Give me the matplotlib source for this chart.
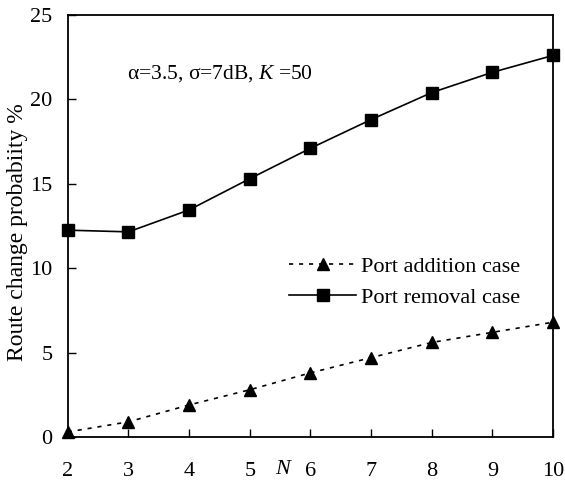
import matplotlib
matplotlib.use("Agg")
import matplotlib.pyplot as plt

# data
n_values = [2, 3, 4, 5, 6, 7, 8, 9, 10]
port_addition = [0.3, 0.9, 1.9, 2.8, 3.8, 4.7, 5.6, 6.2, 6.8]
port_removal = [12.25, 12.15, 13.45, 15.3, 17.1, 18.8, 20.4, 21.6, 22.6]
y_ticks = [0, 5, 10, 15, 20, 25]

plt.rcParams['font.family'] = ['Liberation Serif', 'DejaVu Serif']
plt.rcParams['mathtext.fontset'] = 'custom'
plt.rcParams['mathtext.rm'] = 'Liberation Serif'
plt.rcParams['mathtext.it'] = 'Liberation Serif:italic'

fig = plt.figure(figsize=(5.65, 4.83), dpi=100)
ax = fig.add_axes([0.120, 0.0952, 0.859, 0.874])

ax.plot(n_values, port_addition, color='black', linestyle=(0, (2.5, 3.5)), lw=1.2,
        marker='^', markersize=8.5, label='Port addition case', clip_on=False, zorder=3)
ax.plot(n_values, port_removal, color='black', linestyle='-', lw=1.2,
        marker='s', markersize=8.5, label='Port removal case', clip_on=False, zorder=3)

ax.set_xlim(2, 10)
ax.set_ylim(0, 25)
ax.set_xticks(n_values)
ax.set_yticks(y_ticks)
ax.tick_params(axis='both', direction='in', labelsize=16, length=6, width=1)
ax.tick_params(axis='x', pad=18)
ax.tick_params(axis='y', pad=11)
for s in ax.spines.values():
    s.set_linewidth(1.3)

ax.set_xlabel('N', fontsize=16, style='italic', va='center')
ax.xaxis.set_label_coords(0.442, -0.078)
ax.set_ylabel('Route change probabiity %', fontsize=17, va='center')
ax.yaxis.set_label_coords(-0.104, 0.485)

ax.text(0.121, 0.86, r'α=3.5, σ=7dB, $K$ =50', transform=ax.transAxes,
        fontsize=15.5, va='center', ha='left')

ax.legend(loc='upper left', bbox_to_anchor=(0.415, 0.475), frameon=False,
          fontsize=16, handlelength=3.0, handletextpad=0.25, labelspacing=0.45)

fig.savefig('out.png', dpi=100)
